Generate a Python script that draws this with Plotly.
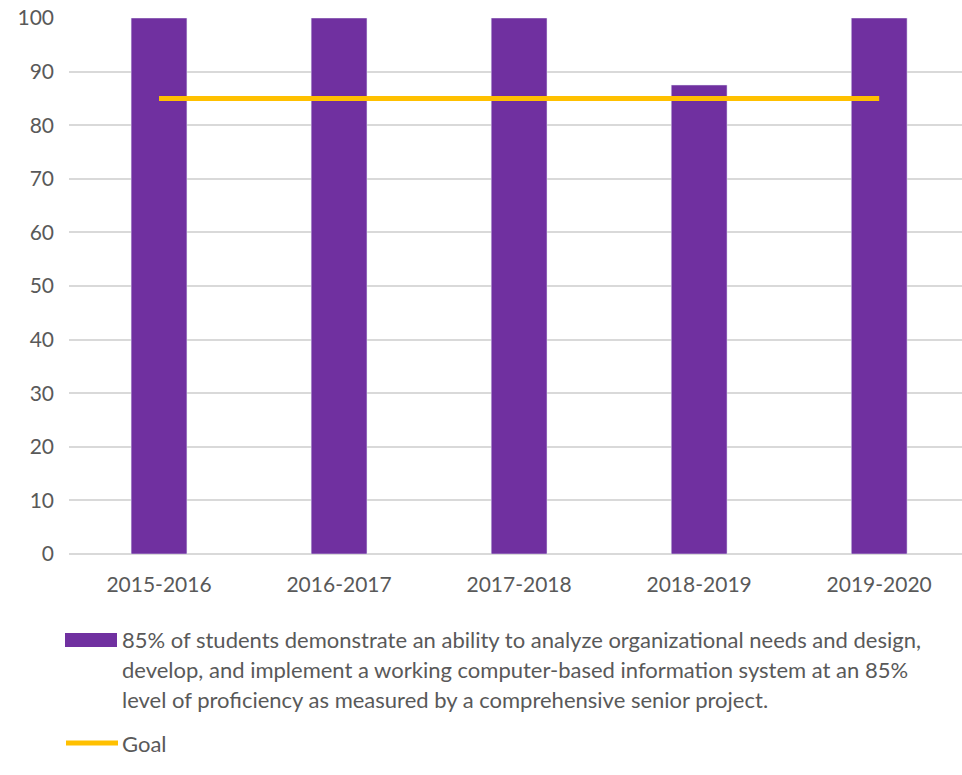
import plotly.graph_objects as go

# School years on the category axis
years = ["2015-2016", "2016-2017", "2017-2018", "2018-2019", "2019-2020"]
# Percent of students meeting the outcome each year
achieved = [100, 100, 100, 87.5, 100]
# Target level for each year
goal = [85, 85, 85, 85, 85]

bar_label_lines = [
    "85% of students demonstrate an ability to analyze organizational needs and design,",
    "develop, and implement a working computer-based information system at an 85%",
    "level of proficiency as measured by a comprehensive senior project.",
]
goal_label = "Goal"

PURPLE = "#7030A0"
GOLD = "#FFC000"
TEXT = "#595959"
GRID = "#D9D9D9"
FONT = "Lato, 'Open Sans', sans-serif"

fig = go.Figure()
fig.add_trace(go.Bar(x=years, y=achieved, marker_color=PURPLE, width=0.31,
                     name=" ".join(bar_label_lines), showlegend=False))
fig.add_trace(go.Scatter(x=years, y=goal, mode="lines", line=dict(color=GOLD, width=5),
                         name=goal_label, showlegend=False))

W, H = 962, 775
L, R, T, B = 69, 0, 18, 221
PW, PH = W - L - R, H - T - B

fig.update_layout(
    width=W, height=H,
    margin=dict(l=L, r=R, t=T, b=B, pad=0),
    paper_bgcolor="white", plot_bgcolor="white",
    font=dict(family=FONT, size=21, color=TEXT),
    xaxis=dict(type="category", range=[-0.5, 4.46], showgrid=False, showline=False,
               ticks="", tickfont=dict(size=21, color=TEXT), ticklabelstandoff=16),
    yaxis=dict(range=[0, 100], dtick=10, showgrid=True, gridcolor=GRID, gridwidth=1.5,
               zeroline=True, zerolinecolor=GRID, zerolinewidth=1.5, showline=False,
               ticks="", tickfont=dict(size=21, color=TEXT), ticklabelstandoff=14),
)

# Legend drawn below the plot: swatches as shapes, labels as annotations.
# Helpers convert figure pixels into paper (plot-area) coordinates.
def px(xpix):
    return (xpix - L) / PW

def py(ypix):
    return (H - B - ypix) / PH

fig.add_shape(type="rect", xref="paper", yref="paper",
              x0=px(65), x1=px(117), y0=py(647), y1=py(633),
              fillcolor=PURPLE, line=dict(width=0))
fig.add_shape(type="line", xref="paper", yref="paper",
              x0=px(66), x1=px(118), y0=py(743), y1=py(743),
              line=dict(color=GOLD, width=5))

LEG_SIZE = 22
for i, line in enumerate(bar_label_lines):
    fig.add_annotation(text=line, xref="paper", yref="paper",
                       x=px(120), y=py(639 + 30 * i), xanchor="left", yanchor="middle",
                       showarrow=False, font=dict(size=LEG_SIZE, color=TEXT, family=FONT))
fig.add_annotation(text=goal_label, xref="paper", yref="paper",
                   x=px(120), y=py(743), xanchor="left", yanchor="middle",
                   showarrow=False, font=dict(size=LEG_SIZE, color=TEXT, family=FONT))

fig.write_html("out.html")
